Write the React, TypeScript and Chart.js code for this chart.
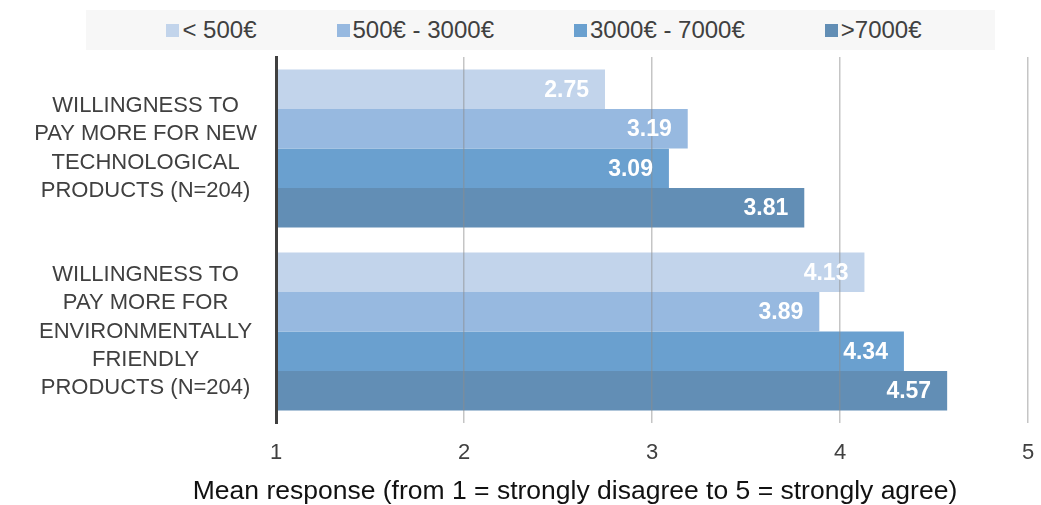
import React, { useEffect, useRef } from "react";
import { Chart, registerables } from "chart.js";

Chart.register(...registerables);

// Question labels (multi-line, one array per category)
const categories: string[][] = [
  ["WILLINGNESS TO", "PAY MORE FOR NEW", "TECHNOLOGICAL", "PRODUCTS (N=204)"],
  ["WILLINGNESS TO", "PAY MORE FOR", "ENVIRONMENTALLY", "FRIENDLY", "PRODUCTS (N=204)"],
];

// Income groups
const seriesNames = ["< 500€", "500€ - 3000€", "3000€ - 7000€", ">7000€"];

// Mean responses per income group, in category order
const below500 = [2.75, 4.13];
const from500to3000 = [3.19, 3.89];
const from3000to7000 = [3.09, 4.34];
const above7000 = [3.81, 4.57];

const seriesColors = ["#c2d4eb", "#97b9e0", "#6aa0cf", "#628eb5"];

const xMin = 1;
const xMax = 5;
const xStep = 1;
const xTitle = "Mean response (from 1 = strongly disagree to 5 = strongly agree)";

const FONT = "'Liberation Sans', Arial, Helvetica, sans-serif";

// White value labels drawn inside the end of each bar, plus the axis caption
const valueLabels = {
  id: "valueLabels",
  afterDraw(chart: any) {
    const ctx = chart.ctx;
    ctx.save();
    ctx.font = `bold 23px ${FONT}`;
    ctx.fillStyle = "#ffffff";
    ctx.textAlign = "right";
    ctx.textBaseline = "middle";
    chart.data.datasets.forEach((ds: any, i: number) => {
      const meta = chart.getDatasetMeta(i);
      meta.data.forEach((bar: any, j: number) => {
        ctx.fillText(Number(ds.data[j]).toFixed(2), bar.x - 16, bar.y + 1);
      });
    });

    // caption under the value axis
    ctx.font = `26.5px ${FONT}`;
    ctx.fillStyle = "#111111";
    ctx.textAlign = "center";
    ctx.textBaseline = "middle";
    ctx.fillText(xTitle, 575, chart.height - 13);
    ctx.restore();
  },
};

export default function App() {
  const canvasRef = useRef<HTMLCanvasElement | null>(null);

  useEffect(() => {
    if (!canvasRef.current) return;
    const seriesValues = [below500, from500to3000, from3000to7000, above7000];
    const chart = new Chart(canvasRef.current, {
      type: "bar",
      data: {
        labels: categories,
        datasets: seriesNames.map((name, i) => ({
          label: name,
          data: seriesValues[i],
          backgroundColor: seriesColors[i],
          borderWidth: 0,
          categoryPercentage: 0.863,
          barPercentage: 1,
        })),
      },
      options: {
        indexAxis: "y",
        animation: false,
        responsive: true,
        maintainAspectRatio: false,
        layout: { padding: { top: 57, right: 13, left: 0, bottom: 0 } },
        plugins: {
          legend: { display: false },
          tooltip: { enabled: false },
        },
        scales: {
          x: {
            type: "linear",
            min: xMin,
            max: xMax,
            afterFit: (scale: any) => {
              scale.height = 82;
              scale.paddingLeft = 0;
              scale.paddingRight = 0;
            },
            ticks: {
              stepSize: xStep,
              padding: 17,
              color: "#404040",
              font: { family: FONT, size: 22 },
            },
            grid: {
              z: 1,
              drawTicks: false,
              lineWidth: 1.5,
              color: (c: any) =>
                c.tick && c.tick.value === xMin ? "rgba(0,0,0,0)" : "rgba(140,140,140,0.5)",
            },
            border: { display: false },
          },
          y: {
            type: "category",
            afterFit: (scale: any) => {
              scale.width = 276;
              scale.paddingTop = 0;
              scale.paddingBottom = 0;
            },
            ticks: {
              padding: 19,
              crossAlign: "center",
              color: "#404040",
              font: { family: FONT, size: 22, lineHeight: 1.29 },
            },
            grid: { display: false, drawTicks: false },
            border: { display: true, color: "#404040", width: 3, z: 2 },
          },
        },
      },
      plugins: [valueLabels],
    });
    return () => chart.destroy();
  }, []);

  return (
    <div
      style={{
        position: "absolute",
        left: 0,
        top: 0,
        width: 1041,
        height: 505,
        background: "#ffffff",
      }}
    >
      <canvas ref={canvasRef} />
      <div
        style={{
          position: "absolute",
          left: 86,
          top: 10,
          width: 909,
          height: 40,
          background: "#f7f7f7",
          display: "flex",
          alignItems: "center",
          justifyContent: "center",
          gap: 80,
          fontFamily: FONT,
          fontSize: 24,
          color: "#404040",
          paddingLeft: 7,
          boxSizing: "border-box",
        }}
      >
        {seriesNames.map((name, i) => (
          <div key={name} style={{ display: "flex", alignItems: "center", whiteSpace: "nowrap" }}>
            <span
              style={{
                display: "inline-block",
                width: 13,
                height: 13,
                background: seriesColors[i],
                marginRight: 3,
              }}
            />
            <span>{name}</span>
          </div>
        ))}
      </div>
    </div>
  );
}
